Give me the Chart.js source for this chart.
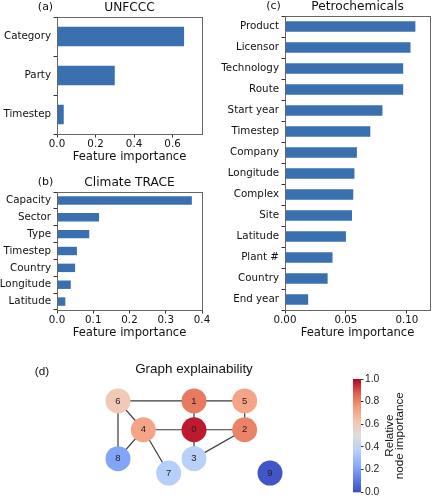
<!DOCTYPE html>
<html>
<head>
<meta charset="utf-8">
<script src="https://cdn.jsdelivr.net/npm/chart.js@4.4.1/dist/chart.umd.min.js"></script>
<style>
  html, body { margin: 0; padding: 0; background: #fff; }
  #wrap { position: relative; width: 432px; height: 500px; overflow: hidden; }
  canvas { position: absolute; }
</style>
</head>
<body>
<div id="wrap">
  <canvas id="unfccc" width="216" height="165" style="left:0;top:0"></canvas>
  <canvas id="trace" width="216" height="172" style="left:0;top:168px"></canvas>
  <canvas id="petro" width="216" height="340" style="left:216px;top:0"></canvas>
  <canvas id="graph" width="432" height="160" style="left:0;top:340px"></canvas>
  <canvas id="cbar" width="92" height="130" style="left:340px;top:370px"></canvas>
</div>
<script>
// (a) UNFCCC
const unfcccLabels = ['Category', 'Party', 'Timestep'];
const unfcccValues = [0.66, 0.30, 0.035];

// (b) Climate TRACE
const traceLabels = ['Capacity', 'Sector', 'Type', 'Timestep', 'Country', 'Longitude', 'Latitude'];
const traceValues = [0.372, 0.116, 0.089, 0.055, 0.050, 0.038, 0.023];

// (c) Petrochemicals
const petroLabels = ['Product', 'Licensor', 'Technology', 'Route', 'Start year', 'Timestep', 'Company',
  'Longitude', 'Complex', 'Site', 'Latitude', 'Plant #', 'Country', 'End year'];
const petroValues = [0.107, 0.103, 0.097, 0.097, 0.080, 0.070, 0.059, 0.057, 0.056, 0.055, 0.050, 0.039, 0.035, 0.019];

// (d) graph: node layout, importance and edges
const nodeIds = [0, 1, 2, 3, 4, 5, 6, 7, 8, 9];
const nodeX = [3, 3, 5, 3, 1, 5, 0, 2, 0, 6];
const nodeY = [2, 3, 2, 1, 2, 3, 3, 0.5, 1, 0.5];
const nodeImportance = [0.97, 0.82, 0.80, 0.38, 0.72, 0.72, 0.60, 0.37, 0.22, 0.02];
const edges = [[6, 1], [1, 5], [6, 4], [6, 8], [4, 0], [0, 2], [1, 0], [5, 2], [0, 3], [3, 2], [4, 8], [4, 7]];
const cbarTicks = [0, 0.2, 0.4, 0.6, 0.8, 1.0];
const coolwarmStops = [[59, 76, 192], [98, 130, 234], [141, 176, 254], [184, 208, 249], [221, 221, 221],
  [245, 196, 173], [244, 154, 123], [222, 96, 77], [180, 4, 38]];

const BAR = '#3a70b0';
const INK = '#111';
const SANS = "'Liberation Sans', Arial, sans-serif";

Chart.defaults.font.family = "'DejaVu Sans', sans-serif";
Chart.defaults.color = INK;

function coolwarm(t) {
  const n = coolwarmStops.length - 1;
  const p = Math.min(Math.max(t, 0), 1) * n;
  const i = Math.min(Math.floor(p), n - 1);
  const f = p - i;
  const a = coolwarmStops[i], b = coolwarmStops[i + 1];
  const c = a.map((v, k) => Math.round(v + (b[k] - v) * f));
  return `rgb(${c[0]},${c[1]},${c[2]})`;
}

// all four spines plus panel title and letter
function panelPlugin(title, letter) {
  return {
    id: 'panel',
    afterDraw(chart) {
      const { ctx, chartArea: a } = chart;
      ctx.save();
      ctx.strokeStyle = '#666';
      ctx.lineWidth = 1;
      const l = Math.round(a.left) + 0.5, t = Math.round(a.top) + 0.5;
      ctx.strokeRect(l, t, Math.round(a.right) - Math.round(a.left), Math.round(a.bottom) - Math.round(a.top));
      ctx.fillStyle = INK;
      ctx.textBaseline = 'middle';
      ctx.textAlign = 'center';
      ctx.font = "12.2px 'DejaVu Sans'";
      ctx.fillText(title, (a.left + a.right) / 2, a.top - 9.5);
      ctx.font = "11px 'DejaVu Sans'";
      ctx.fillText(letter, a.left - 11.5, a.top - 9.5);
      ctx.restore();
    }
  };
}

function featureChart(id, letter, title, labels, values, xMax, xStep, decimals, yWidth, padRight, padTop, xHeight, titlePad) {
  return new Chart(document.getElementById(id), {
    type: 'bar',
    data: {
      labels: labels,
      datasets: [{ data: values, backgroundColor: BAR, categoryPercentage: 1, barPercentage: 0.5 }]
    },
    options: {
      indexAxis: 'y',
      responsive: false,
      animation: false,
      devicePixelRatio: 1,
      layout: { padding: { top: padTop, right: padRight, left: 0, bottom: 0 } },
      plugins: { legend: { display: false }, tooltip: { enabled: false } },
      scales: {
        x: {
          min: 0, max: xMax,
          ticks: { stepSize: xStep, includeBounds: false, padding: 1, font: { size: 10.3 }, color: INK,
            callback: v => v.toFixed(decimals) },
          grid: { drawOnChartArea: false, tickLength: 3.5, color: '#333' },
          border: { color: '#666' },
          title: { display: true, text: 'Feature importance', font: { size: 11.6 }, color: INK,
            padding: { top: 0, bottom: titlePad } },
          afterFit: s => { s.height = xHeight; }
        },
        y: {
          ticks: { padding: 2.5, font: { size: 10.3 }, color: INK, autoSkip: false },
          grid: { drawOnChartArea: false, tickLength: 3.5, color: '#333', offset: true },
          border: { color: '#666' },
          afterFit: s => { s.width = yWidth; }
        }
      }
    },
    plugins: [panelPlugin(title, letter)]
  });
}

featureChart('unfccc', '(a)', 'UNFCCC', unfcccLabels, unfcccValues, 0.753, 0.2, 1, 57, 14, 17, 31, 1);
featureChart('trace', '(b)', 'Climate TRACE', traceLabels, traceValues, 0.4, 0.1, 1, 57, 14, 24, 30, 0);
featureChart('petro', '(c)', 'Petrochemicals', petroLabels, petroValues, 0.119, 0.05, 2, 69, 2, 16, 30, 0);

// (d) graph explainability
const nodePoints = nodeX.map((x, i) => ({ x: x, y: nodeY[i] }));
const edgeSets = edges.map(e => ({
  type: 'line',
  data: [nodePoints[e[0]], nodePoints[e[1]]],
  borderColor: '#3a3a3a',
  borderWidth: 1.2,
  pointRadius: 0,
  order: 1
}));

const graphText = {
  id: 'graphText',
  afterDatasetsDraw(chart) {
    const { ctx, chartArea: a } = chart;
    const meta = chart.getDatasetMeta(0);
    ctx.save();
    ctx.fillStyle = '#222';
    ctx.textAlign = 'center';
    ctx.textBaseline = 'middle';
    ctx.font = '9.5px ' + SANS;
    meta.data.forEach((pt, i) => ctx.fillText(String(nodeIds[i]), pt.x, pt.y));
    ctx.fillStyle = INK;
    ctx.font = '13.4px ' + SANS;
    ctx.fillText('Graph explainability', (a.left + a.right) / 2, a.top - 3);
    ctx.font = '11.7px ' + SANS;
    ctx.fillText('(d)', 42, a.top - 0.5);
    ctx.restore();
  }
};

new Chart(document.getElementById('graph'), {
  type: 'scatter',
  data: {
    datasets: [{
      data: nodePoints,
      backgroundColor: nodeImportance.map(coolwarm),
      borderWidth: 0,
      pointRadius: 12.5,
      pointHoverRadius: 12.5,
      order: 0
    }].concat(edgeSets)
  },
  options: {
    responsive: false,
    animation: false,
    devicePixelRatio: 1,
    layout: { padding: { left: 92.67, right: 136.67, top: 32, bottom: 12 } },
    plugins: { legend: { display: false }, tooltip: { enabled: false } },
    scales: {
      x: { type: 'linear', min: -1, max: 7, display: false },
      y: { type: 'linear', min: 0, max: 4, display: false }
    }
  },
  plugins: [graphText]
});

// colorbar
const cbarPlugin = {
  id: 'cbarFill',
  beforeDatasetsDraw(chart) {
    const { ctx, chartArea: a } = chart;
    const g = ctx.createLinearGradient(0, a.bottom, 0, a.top);
    coolwarmStops.forEach((c, k) => g.addColorStop(k / (coolwarmStops.length - 1), `rgb(${c[0]},${c[1]},${c[2]})`));
    ctx.save();
    ctx.fillStyle = g;
    ctx.fillRect(a.left, a.top, a.right - a.left, a.bottom - a.top);
    ctx.restore();
  },
  afterDraw(chart) {
    const { ctx, chartArea: a } = chart;
    const cy = (a.top + a.bottom) / 2;
    ctx.save();
    ctx.fillStyle = INK;
    ctx.font = '11.7px ' + SANS;
    ctx.textAlign = 'center';
    ctx.textBaseline = 'middle';
    ctx.translate(a.right + 29, cy);
    ctx.rotate(-Math.PI / 2);
    ctx.fillText('Relative', 0, 0);
    ctx.fillText('node importance', 0, 10);
    ctx.restore();
  }
};

new Chart(document.getElementById('cbar'), {
  type: 'scatter',
  data: { datasets: [{ data: [] }] },
  options: {
    responsive: false,
    animation: false,
    devicePixelRatio: 1,
    layout: { padding: { left: 13, right: 0, top: 9, bottom: 6 } },
    plugins: { legend: { display: false }, tooltip: { enabled: false } },
    scales: {
      x: { type: 'linear', display: false },
      y: {
        position: 'right',
        min: 0, max: 1,
        afterBuildTicks: s => { s.ticks = cbarTicks.map(v => ({ value: v })); },
        ticks: { padding: 1.5, font: { family: SANS, size: 10.3 }, color: '#222', callback: v => v.toFixed(1) },
        grid: { drawOnChartArea: false, tickLength: 2.5, color: '#333' },
        border: { display: false },
        afterFit: s => { s.width = 71; }
      }
    }
  },
  plugins: [cbarPlugin]
});
</script>
</body>
</html>
